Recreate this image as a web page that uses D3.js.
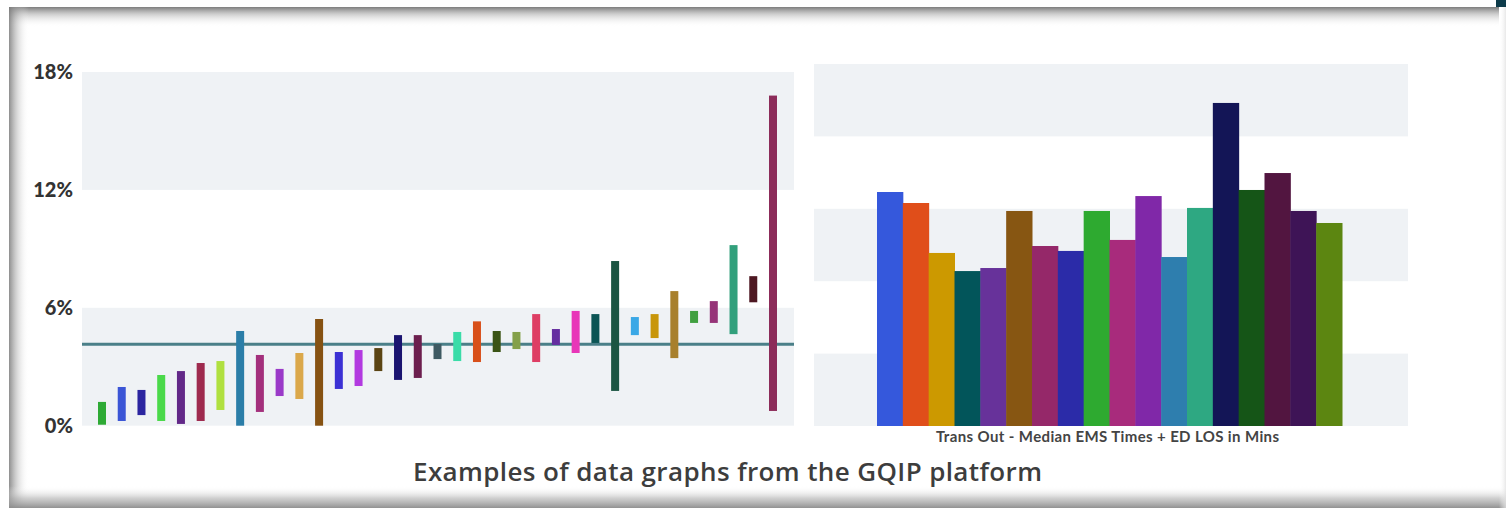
<!DOCTYPE html>
<html>
<head>
<meta charset="utf-8">
<script src="https://cdn.jsdelivr.net/npm/d3@7"></script>
<style>
  html, body { margin: 0; padding: 0; background: #fff; }
  svg { display: block; }
</style>
</head>
<body>
<svg id="chart" width="1506" height="508"></svg>
<script>
// left chart: floating ranges (percent) with a reference line
const rangeIds = d3.range(1, 36).map(i => "S" + i);
const rangeLow = [0.05, 0.24, 0.54, 0.24, 0.09, 0.24, 0.80, 0.0, 0.70, 1.51, 1.36, 0.0, 1.87, 2.02, 2.78, 2.33, 2.43, 3.39,
    3.29, 3.24, 3.75, 3.90, 3.24, 4.11, 3.70, 4.21, 1.77, 4.61, 4.46, 3.44, 5.23, 5.23, 4.66, 6.28, 0.75];
const rangeHigh = [1.21, 1.97, 1.82, 2.58, 2.78, 3.19, 3.29, 4.82, 3.60, 2.89, 3.70, 5.43, 3.75, 3.85, 3.95, 4.61, 4.61, 4.16,
    4.77, 5.31, 4.82, 4.77, 5.68, 4.92, 5.84, 5.68, 8.38, 5.53, 5.68, 6.85, 5.84, 6.34, 9.19, 7.61, 16.8];
const rangeColors = ["#2eaa35", "#3b55d6", "#2b25a0", "#4ad94a", "#622888", "#9e2a4e", "#b0e040", "#2b7ea8", "#a3307c",
    "#9a3ac8", "#dba84a", "#865212", "#3b31d4", "#b23ae0", "#5a4413", "#1a1470", "#6c1f4e", "#3e5a62", "#3adca8",
    "#d8501a", "#3a5415", "#84a04a", "#de3e64", "#652ea0", "#e836b8", "#0c5555", "#1b5542", "#3aa8e6", "#c8960a",
    "#a8802c", "#40a040", "#963478", "#32a07c", "#4e1822", "#8c2c5a"];
const referenceValue = 4.14;
const leftTicks = [0, 6, 12, 18];

// right chart: Trans Out - Median EMS Times + ED LOS in Mins
const siteIds = d3.range(1, 19).map(i => "Site " + i);
const siteMinutes = [161.6, 154.0, 119.5, 107.0, 109.1, 148.5, 124.3, 120.9, 148.5, 128.5, 158.8, 116.7, 150.6, 223.1,
    163.0, 174.7, 148.5, 140.2];
const siteColors = ["#3558dc", "#e04e1a", "#cc9900", "#02555a", "#67329a", "#875612", "#952869", "#2b2ba8", "#2eaa30",
    "#a82b7c", "#8028a8", "#2e7eae", "#2ea882", "#131556", "#155517", "#521540", "#3e1456", "#5c8611"];
const rightBands = [0, 50, 100, 150, 200, 250];
const rightLabel = "Trans Out - Median EMS Times + ED LOS in Mins";
const pageTitle = "Examples of data graphs from the GQIP platform";

const svg = d3.select("#chart");
const bandFill = "#eff2f5";

// ---- frame shading (screenshot card edges)
const defs = svg.append("defs");
function grad(id, x2, y2, stops) {
    const g = defs.append("linearGradient").attr("id", id)
        .attr("x1", 0).attr("y1", 0).attr("x2", x2).attr("y2", y2);
    stops.forEach(([o, c, a]) => g.append("stop").attr("offset", o).attr("stop-color", c).attr("stop-opacity", a));
}
grad("gTop", 0, 1, [[0, "#6e6e6e", 0.9], [0.35, "#9a9a9a", 0.5], [1, "#ffffff", 0]]);
grad("gLeft", 1, 0, [[0, "#7a7a7a", 0.85], [0.4, "#a8a8a8", 0.45], [1, "#ffffff", 0]]);
grad("gBottom", 0, 1, [[0, "#ffffff", 0], [0.55, "#b0b0b0", 0.6], [1, "#8c8c8c", 0.95]]);
grad("gRight", 1, 0, [[0, "#ffffff", 0], [1, "#e2e2e2", 0.8]]);

svg.append("rect").attr("x", 9).attr("y", 7).attr("width", 1490).attr("height", 20).attr("fill", "url(#gTop)");
svg.append("rect").attr("x", 9).attr("y", 7).attr("width", 20).attr("height", 501).attr("fill", "url(#gLeft)");
svg.append("rect").attr("x", 9).attr("y", 486).attr("width", 1497).attr("height", 22).attr("fill", "url(#gBottom)");
svg.append("rect").attr("x", 1499).attr("y", 7).attr("width", 7).attr("height", 501).attr("fill", "url(#gRight)");
svg.append("rect").attr("x", 1496).attr("y", 0).attr("width", 10).attr("height", 7).attr("fill", "#0d3b4a");

// ---- left chart
const lx0 = 82, lx1 = 794;
const ly = d3.scaleLinear().domain([0, 18]).range([425.7, 72]);
const lx = d3.scalePoint().domain(rangeIds).range([102, 773]);

const left = svg.append("g");
d3.pairs(leftTicks).forEach(([a, b], i) => {
    if (i % 2 === 0) {
        left.append("rect").attr("x", lx0).attr("width", lx1 - lx0)
            .attr("y", ly(b)).attr("height", ly(a) - ly(b)).attr("fill", bandFill);
    }
});

const yAxis = d3.axisLeft(ly).tickValues(leftTicks).tickFormat(d => d + "%").tickSize(0).tickPadding(0);
left.append("g").attr("transform", "translate(73,0)").call(yAxis)
    .call(g => g.select(".domain").remove())
    .selectAll("text")
    .attr("font-family", "Lato, 'Open Sans', sans-serif")
    .attr("font-weight", 900)
    .attr("font-size", 20)
    .attr("fill", "#333");

left.append("line").attr("x1", lx0).attr("x2", lx1)
    .attr("y1", ly(referenceValue)).attr("y2", ly(referenceValue))
    .attr("stroke", "#4a7f88").attr("stroke-width", 3);

left.selectAll(".range").data(rangeIds).enter().append("rect")
    .attr("class", "range")
    .attr("x", d => lx(d) - 4)
    .attr("width", 8)
    .attr("y", (d, i) => ly(rangeHigh[i]))
    .attr("height", (d, i) => ly(rangeLow[i]) - ly(rangeHigh[i]))
    .attr("fill", (d, i) => rangeColors[i]);

// ---- right chart
const rx0 = 814, rx1 = 1408;
const ry = d3.scaleLinear().domain([0, 250]).range([426, 64]);
const rx = d3.scaleBand().domain(siteIds).range([877, 1342]).padding(0);

const right = svg.append("g");
d3.pairs(rightBands).forEach(([a, b], i) => {
    if (i % 2 === 0) {
        right.append("rect").attr("x", rx0).attr("width", rx1 - rx0)
            .attr("y", ry(b)).attr("height", ry(a) - ry(b)).attr("fill", bandFill);
    }
});

right.selectAll(".bar").data(siteIds).enter().append("rect")
    .attr("class", "bar")
    .attr("x", d => rx(d))
    .attr("width", rx.bandwidth() + 0.5)
    .attr("y", (d, i) => ry(siteMinutes[i]))
    .attr("height", (d, i) => ry(0) - ry(siteMinutes[i]))
    .attr("fill", (d, i) => siteColors[i]);

right.append("text")
    .attr("x", 1107.5).attr("y", 442)
    .attr("text-anchor", "middle")
    .attr("font-family", "Lato, 'Open Sans', sans-serif")
    .attr("font-weight", 700)
    .attr("font-size", 15)
    .attr("fill", "#444")
    .attr("textLength", 343)
    .text(rightLabel);

// ---- caption
svg.append("text")
    .attr("x", 727.5).attr("y", 481)
    .attr("text-anchor", "middle")
    .attr("font-family", "'Open Sans', Lato, sans-serif")
    .attr("font-weight", 600)
    .attr("font-size", 26)
    .attr("fill", "#3d3d3d")
    .attr("textLength", 629)
    .text(pageTitle);
</script>
</body>
</html>
